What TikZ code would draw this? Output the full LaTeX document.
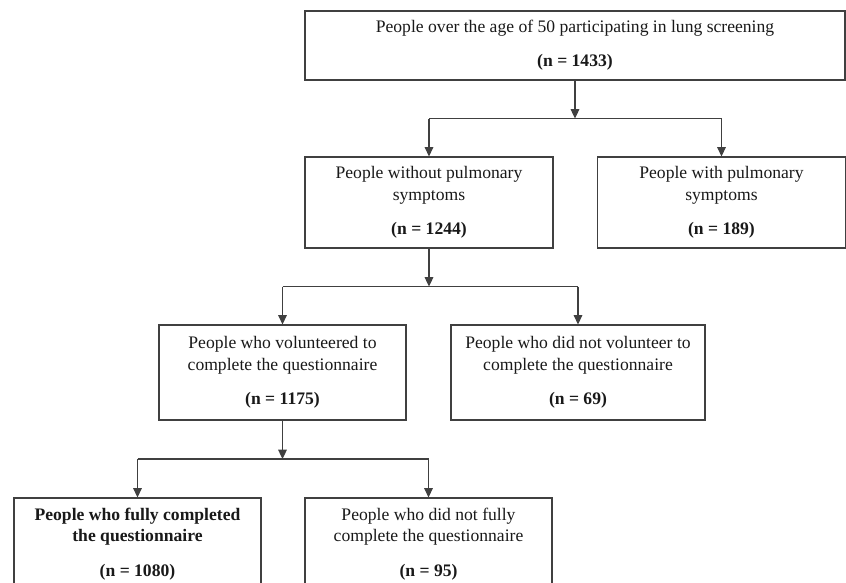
\documentclass[tikz,border=0pt]{standalone}
\usepackage{fontspec}
\setmainfont{Liberation Serif}
\usetikzlibrary{arrows.meta, calc}

\begin{document}
\begin{tikzpicture}[
  x=0.75pt, y=-0.75pt,
  block/.style={rectangle, draw=black!75, line width=0.85pt, fill=white,
                align=center, text=black!90, inner sep=2pt,
                font=\fontsize{13.2}{16.2}\selectfont},
  arrow/.style={-{Triangle[length=7pt, width=6.5pt]}, draw=black!75, line width=0.85pt},
  link/.style={draw=black!75, line width=0.85pt}
]
  \useasboundingbox (0,0) rectangle (846,582);
  \clip (0,0) rectangle (846,582);

  \node (all)   [block, minimum width=405pt, minimum height=51.75pt] at (575,45.5)
    {People over the age of 50 participating in lung screening\\[9.5pt]\textbf{(n = 1433)}};
  \node (noSym) [block, minimum width=186pt, minimum height=68.25pt] at (429,202.5)
    {People without pulmonary\\symptoms\\[9.5pt]\textbf{(n = 1244)}};
  \node (sym)   [block, minimum width=185.5pt, minimum height=68.25pt] at (721.5,202.5)
    {People with pulmonary\\symptoms\\[9.5pt]\textbf{(n = 189)}};
  \node (vol)   [block, minimum width=185.25pt, minimum height=71.25pt] at (282.5,372.5)
    {People who volunteered to\\complete the questionnaire\\[9.5pt]\textbf{(n = 1175)}};
  \node (noVol) [block, minimum width=190.5pt, minimum height=71.25pt] at (578,372.5)
    {People who did not volunteer to\\complete the questionnaire\\[9.5pt]\textbf{(n = 69)}};
  \node (full)  [block, minimum width=185.25pt, minimum height=69pt] at (137.5,544)
    {\textbf{People who fully completed}\\\textbf{the questionnaire}\\[9.5pt]\textbf{(n = 1080)}};
  \node (part)  [block, minimum width=185.25pt, minimum height=69pt] at (428.5,544)
    {People who did not fully\\complete the questionnaire\\[9.5pt]\textbf{(n = 95)}};

  % split connectors
  \foreach \up/\a/\b in {all/noSym/sym, noSym/vol/noVol, vol/full/part} {
    \coordinate (j) at ($(\up.south)!0.5!(\a.north)$);
    \draw[arrow] (\up.south) -- (\up.south |- j);
    \draw[link] (\a.north |- j) -- (\b.north |- j);
    \draw[arrow] (\a.north |- j) -- (\a.north);
    \draw[arrow] (\b.north |- j) -- (\b.north);
  }
\end{tikzpicture}
\end{document}
